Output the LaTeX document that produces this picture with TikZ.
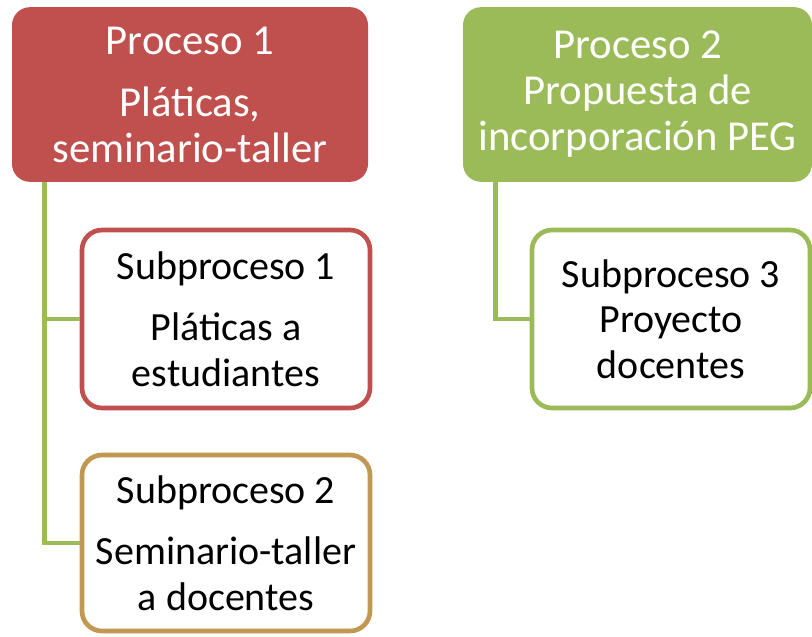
\documentclass[tikz,border=0pt]{standalone}
\usepackage{fontspec}
\setmainfont{Carlito}

\definecolor{procred}{RGB}{192,80,77}
\definecolor{procgreen}{RGB}{155,187,89}
\definecolor{proctan}{RGB}{192,152,82}

\tikzset{every picture/.style={line width=0.75pt}}
\tikzset{
  boxtext/.style={align=center, inner sep=0pt},
  procbox/.style={boxtext, fill=#1, draw=none, text=white, rounded corners=13.5pt,
    minimum height=131pt, font=\fontsize{32}{34.5}\selectfont},
  subbox/.style={boxtext, draw=#1, line width=3.5pt, fill=white, text=black,
    rounded corners=15pt, font=\fontsize{30}{34}\selectfont},
  link/.style={draw=procgreen, line width=3.5pt}
}

\begin{document}
\begin{tikzpicture}[x=0.75pt,y=0.75pt,yscale=-1,xscale=1]
\useasboundingbox (0,0) rectangle (812,636);

%Shape: Rounded Rect [id:proc1]
\node (p1) [procbox=procred, minimum width=267pt] at (190,94.5)
  {Proceso 1\\[12pt]Pláticas,\\seminario-taller};
%Shape: Rounded Rect [id:proc2]
\node (p2) [procbox=procgreen, minimum width=261.75pt] at (637.5,94.5)
  {Proceso 2\\Propuesta de\\incorporación PEG};

%Shape: Rounded Rect [id:sub1]
\node (s1) [subbox=procred, minimum width=216pt, minimum height=133.5pt] at (226,319)
  {Subproceso 1\\[12pt]Pláticas a\\estudiantes};
%Shape: Rounded Rect [id:sub2]
\node (s2) [subbox=proctan, minimum width=216pt, minimum height=132pt] at (226,543)
  {Subproceso 2\\[12pt]Seminario-taller\\a docentes};
%Shape: Rounded Rect [id:sub3]
\node (s3) [subbox=procgreen, minimum width=208.5pt, minimum height=133.5pt] at (671,319)
  {Subproceso 3\\Proyecto\\docentes};

%Straight Lines
\draw [link] (p1.south west) ++(33,0) |- (s1.west);
\draw [link] (p1.south west) ++(33,0) |- (s2.west);
\draw [link] (p2.south west) ++(33,0) |- (s3.west);

\end{tikzpicture}
\end{document}
